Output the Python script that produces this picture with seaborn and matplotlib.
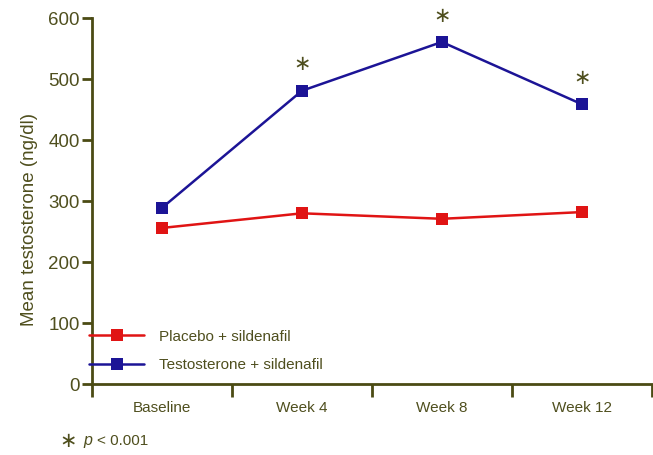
import pandas as pd
import matplotlib.pyplot as plt
import seaborn as sns

# values
weeks = ['Baseline', 'Week 4', 'Week 8', 'Week 12']
placebo = [256, 280, 271, 282]
testosterone = [289, 481, 561, 459]
signif = [False, True, True, True]
yticks = [0, 100, 200, 300, 400, 500, 600]

df = pd.DataFrame({
    'week': list(range(len(weeks))) * 2,
    'value': placebo + testosterone,
    'group': ['Placebo + sildenafil'] * 4 + ['Testosterone + sildenafil'] * 4,
})

sns.set_style('white')
plt.rcParams['font.family'] = ['Liberation Sans', 'DejaVu Sans']
axis_col = '#4b4b14'
text_col = '#4f4f1e'
star = '\u2217'

fig = plt.figure(figsize=(6.53, 4.55), dpi=100)
ax = fig.add_axes([0.141, 0.156, 0.857, 0.804])
sns.lineplot(data=df, x='week', y='value', hue='group', ax=ax,
             palette=['#e01414', '#1c1496'], marker='s', markersize=8,
             markeredgewidth=0, linewidth=1.8)

for i, flag in enumerate(signif):
    if flag:
        ax.annotate(star, (i, testosterone[i]), xytext=(0, 19), textcoords='offset points',
                    ha='center', va='center', fontsize=15, color=text_col,
                    family='DejaVu Sans')

ax.set_xlim(-0.5, len(weeks) - 0.5)
ax.set_ylim(0, 600)
ax.set_yticks(yticks)
ax.set_xticks([i - 0.5 for i in range(len(weeks) + 1)])
ax.set_xticklabels([])
ax.set_xticks(range(len(weeks)), minor=True)
ax.set_xticklabels(weeks, minor=True)
ax.tick_params(axis='x', which='major', direction='out', length=9, width=2, color=axis_col, bottom=True)
ax.tick_params(axis='x', which='minor', length=0, pad=12, labelsize=11, labelcolor=text_col)
ax.tick_params(axis='y', direction='out', length=7, width=2, color=axis_col, left=True,
               labelsize=13.5, labelcolor=text_col, pad=2)
for s in ['top', 'right']:
    ax.spines[s].set_visible(False)
for s in ['left', 'bottom']:
    ax.spines[s].set_color(axis_col)
    ax.spines[s].set_linewidth(2)

ax.set_xlabel('')
ax.set_ylabel('Mean testosterone (ng/dl)', fontsize=13.5, color=text_col)
ax.yaxis.set_label_coords(-0.097, 0.45)

leg = ax.legend(loc='lower left', bbox_to_anchor=(-0.03, -0.005), frameon=False,
                handlelength=3.6, fontsize=11, labelspacing=0.95, handletextpad=1.0)
for t in leg.get_texts():
    t.set_color(text_col)

fig.text(0.105, 0.03, star, fontsize=15, color=text_col, va='center', ha='center',
         family='DejaVu Sans')
fig.text(0.127, 0.016, 'p', fontsize=11.5, style='italic', color=text_col, va='bottom')
fig.text(0.148, 0.016, '< 0.001', fontsize=11, color=text_col, va='bottom')

fig.savefig('out.png', dpi=100)
